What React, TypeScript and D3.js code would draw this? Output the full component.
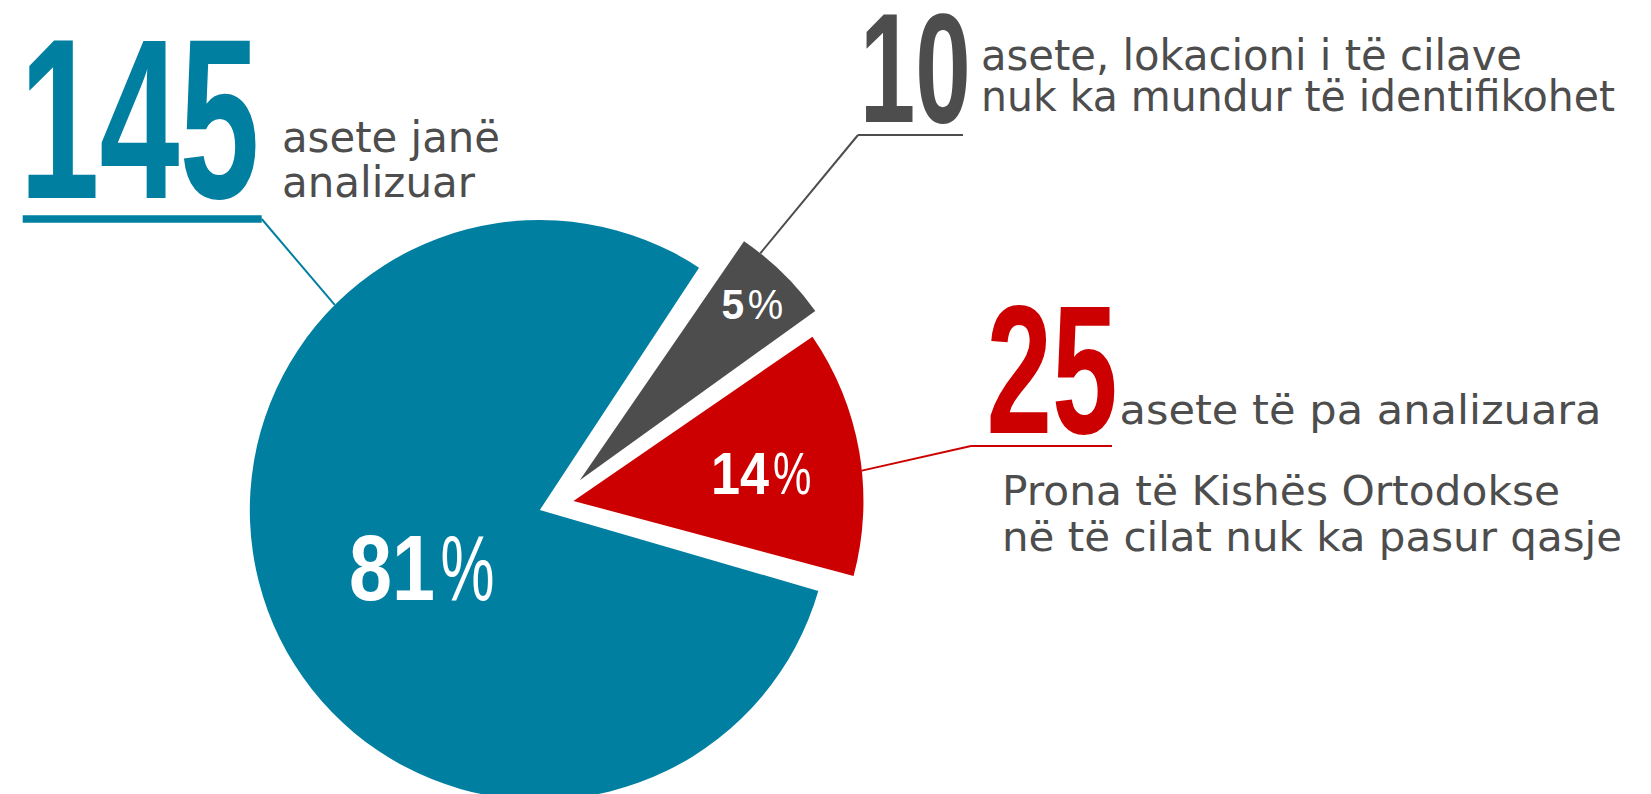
import React from "react";
import * as d3 from "d3";

const W = 1651;
const H = 794;

// slices in clockwise order, starting with the small gray one
const categories = ["lokacioni i panjohur", "pa analizuara", "analizuara"];
const counts = [10, 25, 145];
const percentLabels = ["5", "14", "81"];
const colors = ["#4d4d4d", "#cc0000", "#007fa0"];
const explode = [33, 17, 18];

// percentage labels, polar from each slice tip
const labelAngles = [45.5, 88, 229.35];
const labelRadii = [230.5, 195.8, 138.1];
const labelSizes = [42, 60, 92];
const digitScale = [0.97, 0.87, 0.84];
const pctScale = [0.95, 0.72, 0.66];

// where each leader line touches its slice (degrees, clockwise from 12 o'clock)
const leaderAngles = [38.5, 84, 315];

// callout texts
const descriptions = [
  ["asete, lokacioni i të cilave", "nuk ka mundur të identifikohet"],
  ["asete të pa analizuara"],
  ["asete janë", "analizuar"],
];
const notes = ["Prona të Kishës Ortodokse", "në të cilat nuk ka pasur qasje"];

const rad = (d: number) => (d * Math.PI) / 180;
const polar = (a: number, r: number): [number, number] => [r * Math.sin(a), -r * Math.cos(a)];

const R = 290;
const cx = 556.7;
const cy = 503.8;
const grey = "#4d4d4d";
const numFont = "'Liberation Sans', Arial, sans-serif";
const textFont = "'DejaVu Sans', sans-serif";
const DIGIT_ADV = 0.556; // advance of a Liberation Sans digit, in em

// callout layout: big number, underline, elbow of the leader, text lines
const callouts = [
  {
    num: { x: 859.8, y: 121.7, size: 155, len: 111 },
    rule: { x1: 858, x2: 963, y: 135, w: 2 },
    elbow: [858, 135],
    lines: { x: 981, ys: [70, 111], size: 42, lens: [541, 634] },
  },
  {
    num: { x: 986.5, y: 433, size: 184, len: 131 },
    rule: { x1: 971, x2: 1112, y: 446, w: 2 },
    elbow: [971, 446],
    lines: { x: 1119.5, ys: [424.3], size: 40, lens: [482] },
  },
  {
    num: { x: 19.4, y: 197.7, size: 229, len: 240 },
    rule: { x1: 22.7, x2: 261.7, y: 219, w: 7.7 },
    elbow: [261.7, 219],
    lines: { x: 282, ys: [151.7, 196.7], size: 42, lens: [218, 193] },
  },
];
const noteLayout = { x: 1002, ys: [505, 551], size: 41, lens: [558, 620] };

const App = () => {
  const pie = d3
    .pie<number>()
    .sort(null)
    .startAngle(rad(33.9))
    .endAngle(rad(33.9 + 360))
    .padAngle(rad(1.2));
  const arcs = pie(counts);
  const arc = d3.arc<d3.PieArcDatum<number>>().innerRadius(0).outerRadius(R);

  const tips = arcs.map((a, i) => {
    const [dx, dy] = polar((a.startAngle + a.endAngle) / 2, explode[i]);
    return [cx + dx, cy + dy];
  });

  return (
    <svg width={W} height={H} style={{ position: "absolute", left: 0, top: 0, background: "#fff" }}>
      <g>
        {arcs.map((a, i) => (
          <path
            key={categories[i]}
            d={arc(a) || ""}
            fill={colors[i]}
            transform={`translate(${tips[i][0]},${tips[i][1]})`}
          />
        ))}
      </g>

      {/* leader lines and underlines */}
      {callouts.map((c, i) => {
        const [px, py] = polar(rad(leaderAngles[i]), R);
        return (
          <g key={"lead" + i}>
            <line
              x1={tips[i][0] + px}
              y1={tips[i][1] + py}
              x2={c.elbow[0]}
              y2={c.elbow[1]}
              stroke={colors[i]}
              strokeWidth={2}
            />
            <line x1={c.rule.x1} x2={c.rule.x2} y1={c.rule.y} y2={c.rule.y} stroke={colors[i]} strokeWidth={c.rule.w} />
          </g>
        );
      })}

      {/* big numbers and descriptions */}
      {callouts.map((c, i) => {
        const label = String(counts[i]);
        const sx = c.num.len / (label.length * DIGIT_ADV * c.num.size);
        return (
          <g key={"call" + i}>
            <text
              transform={`translate(${c.num.x},${c.num.y}) scale(${sx},1)`}
              fontFamily={numFont}
              fontWeight={700}
              fontSize={c.num.size}
              fill={colors[i]}
            >
              {label}
            </text>
            {descriptions[i].map((t, j) => (
              <text
                key={j}
                x={c.lines.x}
                y={c.lines.ys[j]}
                fontFamily={textFont}
                fontSize={c.lines.size}
                fill={grey}
                textLength={c.lines.lens[j]}
                lengthAdjust="spacingAndGlyphs"
              >
                {t}
              </text>
            ))}
          </g>
        );
      })}

      {notes.map((t, j) => (
        <text
          key={"note" + j}
          x={noteLayout.x}
          y={noteLayout.ys[j]}
          fontFamily={textFont}
          fontSize={noteLayout.size}
          fill={grey}
          textLength={noteLayout.lens[j]}
          lengthAdjust="spacingAndGlyphs"
        >
          {t}
        </text>
      ))}

      {/* percentage labels */}
      {arcs.map((a, i) => {
        const [lx, ly] = polar(rad(labelAngles[i]), labelRadii[i]);
        const x = tips[i][0] + lx;
        const y = tips[i][1] + ly;
        const s = labelSizes[i];
        return (
          <g key={"pct" + i} transform={`translate(${x},${y})`} fill="#fff" fontFamily={numFont} fontSize={s}>
            <text textAnchor="end" fontWeight={700} transform={`scale(${digitScale[i]},1)`}>
              {percentLabels[i]}
            </text>
            <text x={s * 0.09} fontWeight={400} transform={`scale(${pctScale[i]},1)`}>
              %
            </text>
          </g>
        );
      })}
    </svg>
  );
};

export default App;
